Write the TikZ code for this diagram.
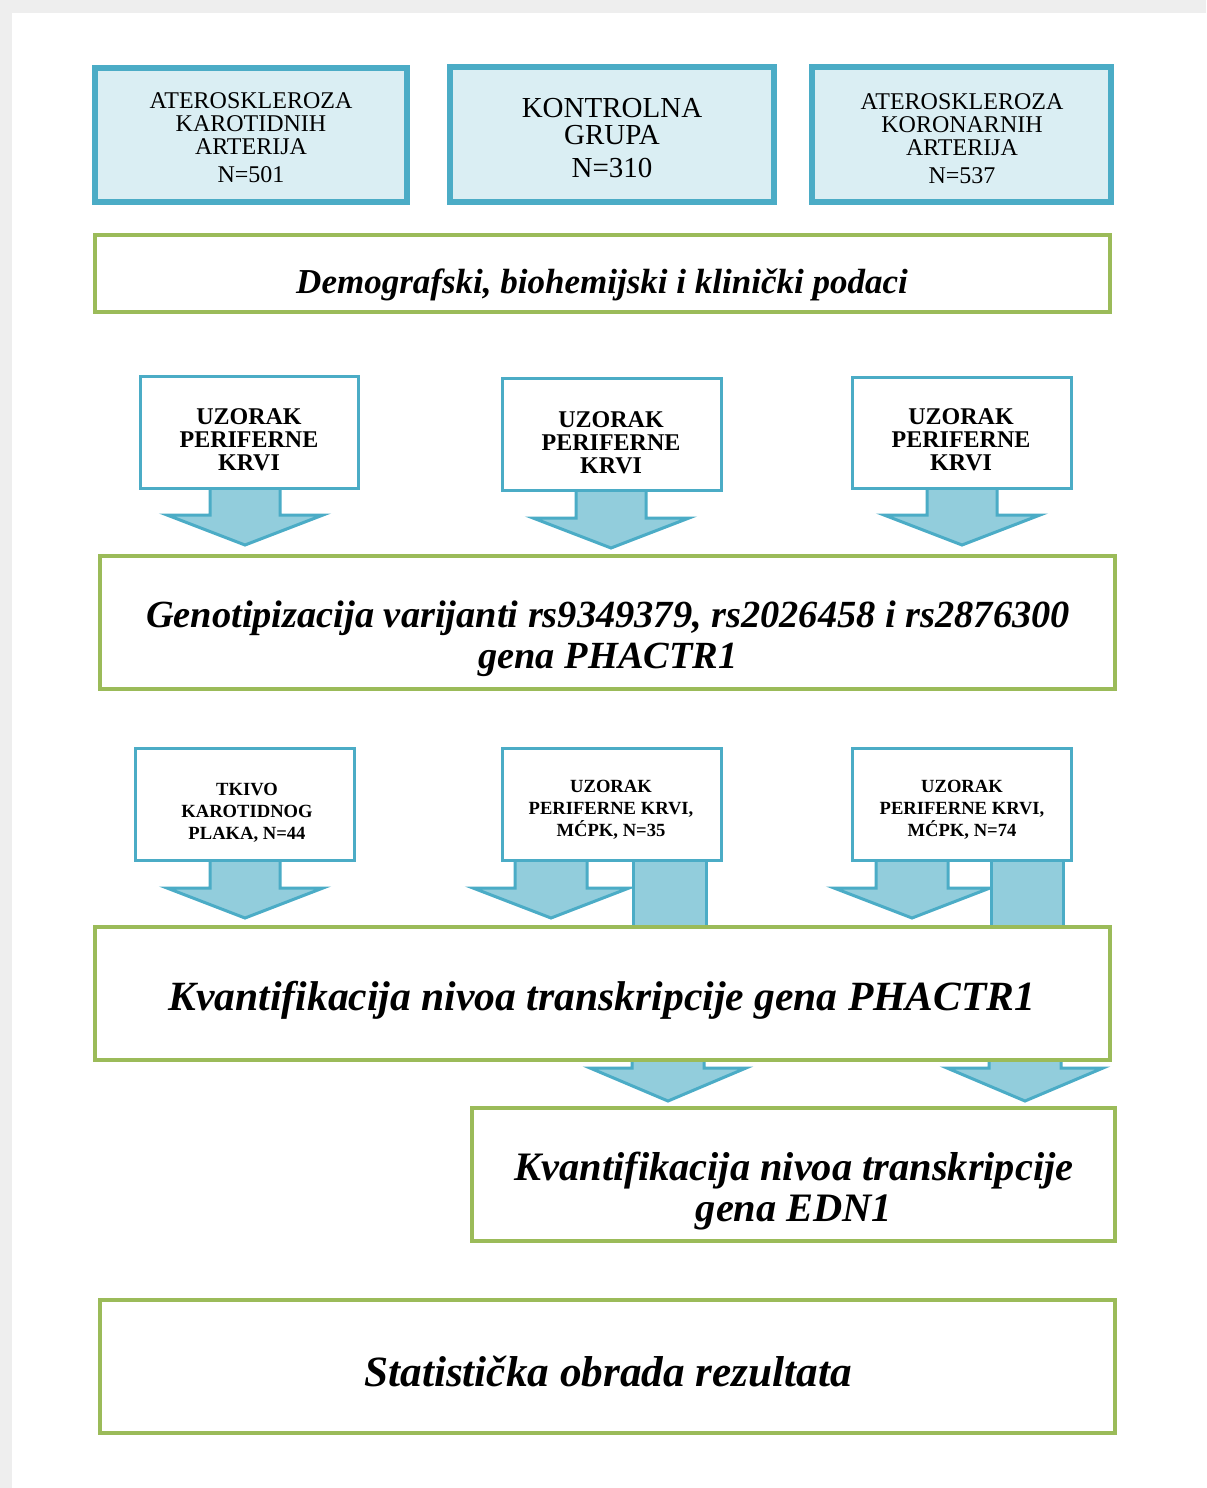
\documentclass[tikz,border=0pt]{standalone}
\usepackage{fontspec}
\setmainfont{Liberation Serif}
\usetikzlibrary{fit,shadows}
\definecolor{tealb}{HTML}{4BACC6}
\definecolor{greenb}{HTML}{9BBB59}
\definecolor{lblue}{HTML}{DAEEF3}
\definecolor{afill}{HTML}{92CDDC}
\definecolor{pagegray}{HTML}{EEEEEE}
\tikzset{
  topbox/.style={draw=tealb, line width=3pt, fill=lblue, inner sep=0pt,
    drop shadow={opacity=0.35, shadow xshift=1pt, shadow yshift=-1.5pt}},
  smallbox/.style={draw=tealb, line width=1.5pt, fill=white, inner sep=0pt},
  greenbox/.style={draw=greenb, line width=1.8pt, fill=white, inner sep=0pt},
  blockarr/.style={draw=tealb, line width=1.5pt, fill=afill, line join=miter},
  toptext/.style={align=center, inner sep=0pt, font=\fontsize{12}{11.5}\selectfont},
  smalltext/.style={align=center, inner sep=0pt, font=\fontsize{12}{11.5}\selectfont\bfseries},
  tinytext/.style={align=center, inner sep=0pt, font=\fontsize{9.3}{11}\selectfont\bfseries},
  bigtext/.style={align=center, inner sep=0pt, font=\fontsize{19.2}{20.5}\selectfont\bfseries\itshape},
}
% cx, ytop, shaft half width, ybase, head half width, ytip
\newcommand\blkarrow[6]{%
  \draw[blockarr] (#1-#3,#2) -- (#1-#3,#4) -- (#1-#5,#4) -- (#1,#6) -- (#1+#5,#4) -- (#1+#3,#4) -- (#1+#3,#2);}
\begin{document}
\begin{tikzpicture}[x=0.5pt,y=-0.5pt]
\useasboundingbox (0,0) rectangle (1206,1488);
\fill[pagegray] (0,0) rectangle (1206,1488);
\fill[white] (12,13) rectangle (1206,1488);

% ---- top boxes
\node[topbox, fit={(95,68)(407,202)}] (a1) {};
\node[topbox, fit={(450,67)(774,202)}] (a2) {};
\node[topbox, fit={(812,67)(1111,202)}] (a3) {};
\node[toptext] (a1t) at (251,138) {ATEROSKLEROZA\\KAROTIDNIH\\ARTERIJA\\[2.5pt]N=501};
\node[toptext, font=\fontsize{14.5}{13.5}\selectfont] (a2t) at (612,138) {KONTROLNA\\GRUPA\\[3pt]N=310};
\node[toptext] (a3t) at (962,139) {ATEROSKLEROZA\\KORONARNIH\\ARTERIJA\\[2.5pt]N=537};

% ---- demographic box
\node[greenbox, fit={(95,235)(1110,312)}] (demo) {};
\node[bigtext, font=\fontsize{17.5}{17.5}\selectfont\bfseries\itshape] (demot) at (602,285) {Demografski, biohemijski i klinički podaci};

% ---- row 2 arrows
\blkarrow{245}{485}{35}{515}{78}{545}
\blkarrow{611}{487}{35}{518}{78}{548}
\blkarrow{962}{485}{35}{515}{78}{545}

% ---- row 2 boxes
\node[smallbox, fit={(140,376)(358,488)}] (b1) {};
\node[smallbox, fit={(502,378)(721,490)}] (b2) {};
\node[smallbox, fit={(852,377)(1071,488)}] (b3) {};
\node[smalltext] (b1t) at (249,440) {UZORAK\\PERIFERNE\\KRVI};
\node[smalltext] (b2t) at (611,443) {UZORAK\\PERIFERNE\\KRVI};
\node[smalltext] (b3t) at (961,440) {UZORAK\\PERIFERNE\\KRVI};

% ---- genotyping box
\node[greenbox, fit={(100,556)(1115,689)}] (geno) {};
\node[bigtext] (genot) at (608,639) {Genotipizacija varijanti rs9349379, rs2026458 i rs2876300\\gena PHACTR1};

% ---- row 3 arrows
\blkarrow{245}{857}{35}{888}{78}{918}
\blkarrow{551}{857}{36}{888}{78}{918}
\draw[blockarr] (633,857) -- (633,926) -- (706,926) -- (706,857);
\blkarrow{912}{857}{36}{888}{78}{918}
\draw[blockarr] (991,857) -- (991,926) -- (1063,926) -- (1063,857);

% ---- row 3 boxes
\node[smallbox, fit={(135,748)(354,860)}] (c1) {};
\node[smallbox, fit={(502,748)(721,860)}] (c2) {};
\node[smallbox, fit={(852,748)(1071,860)}] (c3) {};
\node[tinytext] (c1t) at (247,813) {TKIVO\\KAROTIDNOG\\PLAKA, N=44};
\node[tinytext] (c2t) at (611,810) {UZORAK\\PERIFERNE KRVI,\\MĆPK, N=35};
\node[tinytext] (c3t) at (962,810) {UZORAK\\PERIFERNE KRVI,\\MĆPK, N=74};

% ---- arrows to EDN1
\blkarrow{668}{1057}{36}{1068}{78}{1101}
\blkarrow{1025}{1057}{36}{1068}{78}{1101}

% ---- PHACTR1 quantification box
\node[greenbox, fit={(95,927)(1110,1060)}] (kv1) {};
\node[bigtext, font=\fontsize{20.8}{20.8}\selectfont\bfseries\itshape] (kv1t) at (602,1000) {Kvantifikacija nivoa transkripcije gena PHACTR1};

% ---- EDN1 box
\node[greenbox, fit={(472,1108)(1115,1241)}] (kv2) {};
\node[bigtext, font=\fontsize{20.2}{20.5}\selectfont\bfseries\itshape] (kv2t) at (794,1191) {Kvantifikacija nivoa transkripcije\\gena EDN1};

% ---- statistics box
\node[greenbox, fit={(100,1300)(1115,1433)}] (stat) {};
\node[bigtext, font=\fontsize{21.6}{21.6}\selectfont\bfseries\itshape] (statt) at (608,1372) {Statistička obrada rezultata};
\end{tikzpicture}
\end{document}
